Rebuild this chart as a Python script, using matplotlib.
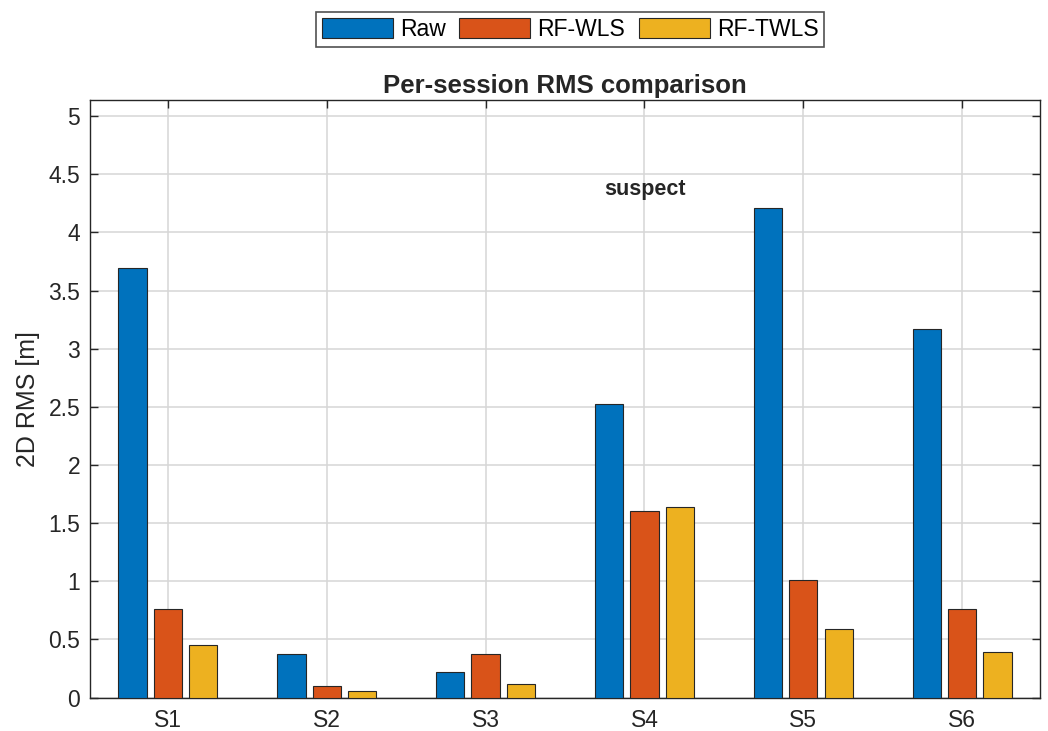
import numpy as np
import matplotlib
matplotlib.use('Agg')
import matplotlib.pyplot as plt

sessions = ["S1", "S2", "S3", "S4", "S5", "S6"]
raw = [3.69, 0.37, 0.22, 2.52, 4.21, 3.17]
rf_wls = [0.76, 0.10, 0.37, 1.60, 1.01, 0.76]
rf_twls = [0.45, 0.06, 0.12, 1.64, 0.59, 0.39]
series_names = ["Raw", "RF-WLS", "RF-TWLS"]

colors = ["#0072BD", "#D95319", "#EDB120"]
axcol = "#262626"

plt.rcParams["font.family"] = ["Liberation Sans", "DejaVu Sans"]

fig = plt.figure(figsize=(10.48, 7.31), dpi=100)
ax = fig.add_axes([0.0859, 0.0458, 0.9065, 0.8172])

x = np.arange(1, len(sessions) + 1)
w = 0.1778
offsets = [-0.2222, 0.0, 0.2222]
handles = []
for vals, off, c, name in zip([raw, rf_wls, rf_twls], offsets, colors, series_names):
    h = ax.bar(x + off, vals, width=w, color=c, edgecolor=axcol, linewidth=0.8, label=name, zorder=3)
    handles.append(h)

ax.set_xlim(0.51, 6.49)
ax.set_ylim(0, 5.137)
ax.set_xticks(x)
ax.set_xticklabels(sessions)
ax.set_yticks(np.arange(0, 5.01, 0.5))
ax.set_yticklabels(["0", "0.5", "1", "1.5", "2", "2.5", "3", "3.5", "4", "4.5", "5"])
ax.grid(True, color="#d6d6d6", linewidth=1.1, zorder=0)
ax.set_axisbelow(True)
ax.tick_params(direction="in", length=6, width=1.0, colors=axcol, labelsize=16.5,
               top=True, right=True, labelcolor=axcol)
ax.tick_params(axis="x", pad=8)
ax.tick_params(axis="y", pad=7)
for s in ax.spines.values():
    s.set_color(axcol)
    s.set_linewidth(1.0)

ax.set_ylabel("2D RMS [m]", fontsize=18, color=axcol, labelpad=6)
ax.set_title("Per-session RMS comparison", fontsize=18.5, fontweight="bold", color=axcol, pad=5)
ax.text(4, 4.37, "suspect", ha="center", va="center", fontsize=15.5, fontweight="bold", color=axcol)

leg = fig.legend(handles=handles, labels=series_names, loc="center", ncol=3,
                 bbox_to_anchor=(0.544, 0.9596), fontsize=16.5, frameon=True, fancybox=False,
                 edgecolor=axcol, handlelength=3.1, handleheight=1.0, columnspacing=0.6,
                 handletextpad=0.3, borderpad=0.25, borderaxespad=0)
leg.get_frame().set_linewidth(1.2)

plt.savefig("out.png", dpi=100)
